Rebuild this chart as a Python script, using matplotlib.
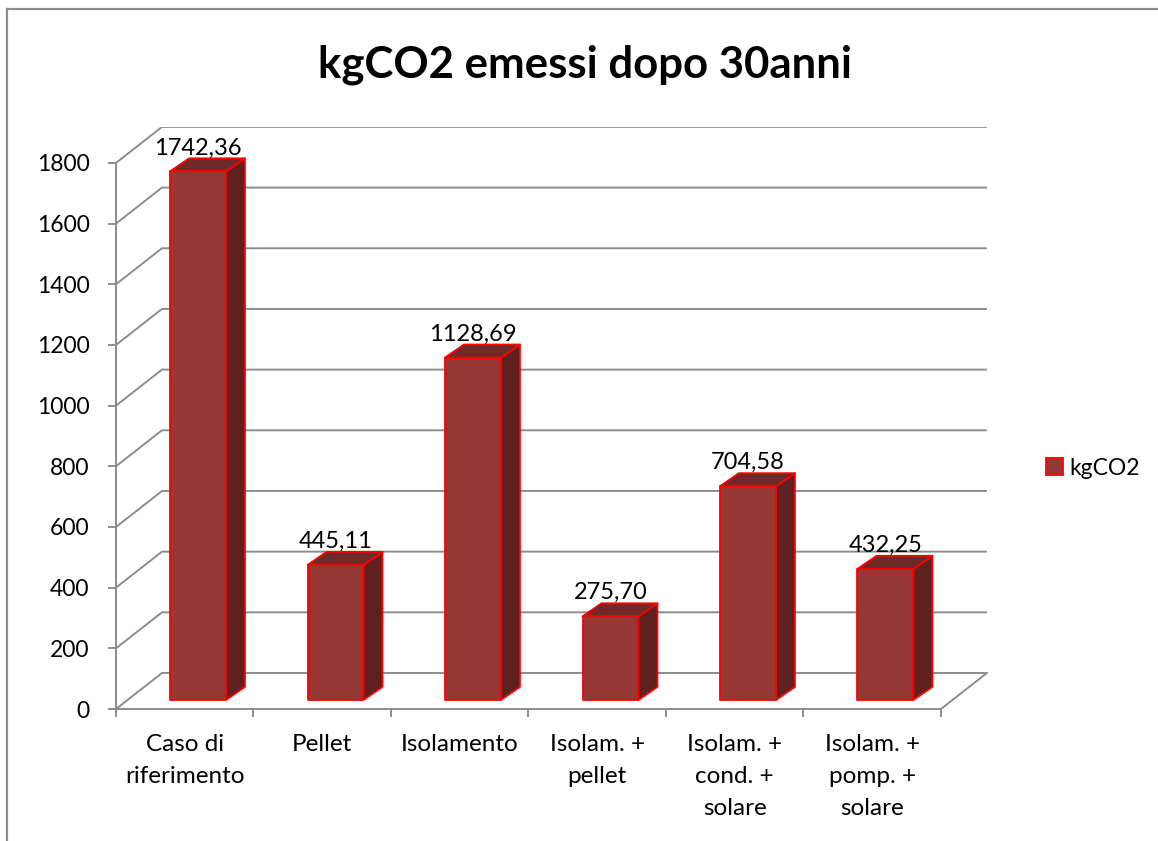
import matplotlib.pyplot as plt
import numpy as np
from matplotlib.patches import Polygon, Patch
from matplotlib.lines import Line2D

plt.rcParams['font.family'] = ['Lato', 'DejaVu Sans']

############################################################
# INPUT

categorie = ['Caso di\nriferimento', 'Pellet', 'Isolamento', 'Isolam. +\npellet',
             'Isolam. +\ncond. +\nsolare', 'Isolam. +\npomp. +\nsolare']
kgco2 = [1742.36, 445.11, 1128.69, 275.70, 704.58, 432.25]
etichette = ['1742,36', '445,11', '1128,69', '275,70', '704,58', '432,25']
yticks = np.arange(0, 1801, 200)

# END INPUT
############################################################

grid_col = '#8c8c8c'
front_col = '#953735'
side_col = '#5f2120'
top_col = '#6e2a28'
edge_col = '#ff0000'

# depth of the 3D box (category units, value units)
DX, DY = 0.3345, 118.7
# bar placement inside the depth
BX0, BY0 = 0.0965, 29.7
BDX, BDY = 0.138, 43.0
W = 0.407

fig = plt.figure(figsize=(11.58, 8.41), dpi=100)
ax = fig.add_axes([116/1158, (841-709)/841, 873/1158, 582.4/841])
ax.set_xlim(-0.5, 5.5 + DX + 0.015)
ax.set_ylim(0, 1800 + DY + 1)
ax.patch.set_alpha(0)
for s in ['top', 'right']:
    ax.spines[s].set_visible(False)
ax.spines['left'].set_bounds(0, 1800)
ax.spines['bottom'].set_bounds(-0.5, 5.5)
for s in ['left', 'bottom']:
    ax.spines[s].set_color(grid_col)
    ax.spines[s].set_linewidth(1.4)

# grid walls
xa, xb = -0.5, 5.5
for v in yticks:
    ax.plot([xa, xa+DX, xb+DX], [v, v+DY, v+DY], color=grid_col, lw=1.4, zorder=1,
            solid_capstyle='butt')
ax.plot([xb, xb+DX], [0, DY], color=grid_col, lw=1.4, zorder=1)

# ticks
ax.set_yticks(yticks)
ax.tick_params(axis='y', direction='out', length=6, width=1.4, color=grid_col,
               labelsize=16.5, pad=13)
ax.set_xticks(np.arange(-0.5, 6, 1.0))
ax.set_xticklabels([])
ax.tick_params(axis='x', which='major', direction='out', length=6, width=1.4, color=grid_col)
ax.set_xticks(np.arange(len(categorie)), minor=True)
ax.set_xticklabels(categorie, minor=True, fontsize=17.5, linespacing=1.66)
ax.tick_params(axis='x', which='minor', length=0, pad=18)

# bars
for i, v in enumerate(kgco2):
    x0 = i - W/2 + BX0
    x1 = x0 + W
    y0 = BY0
    y1 = BY0 + v
    front = [(x0, y0), (x1, y0), (x1, y1), (x0, y1)]
    side = [(x1, y0), (x1+BDX, y0+BDY), (x1+BDX, y1+BDY), (x1, y1)]
    top = [(x0, y1), (x1, y1), (x1+BDX, y1+BDY), (x0+BDX, y1+BDY)]
    for pts, c in [(side, side_col), (top, top_col), (front, front_col)]:
        ax.add_patch(Polygon(pts, closed=True, facecolor=c, edgecolor=edge_col,
                             lw=1.3, joinstyle='round', zorder=3))
    ax.annotate(etichette[i], (i + BX0, y1 + BDY), xytext=(0, 0), textcoords='offset points',
                ha='center', va='bottom', fontsize=17, zorder=4)

# legend
ax.legend(handles=[Patch(facecolor=front_col, edgecolor=edge_col, lw=1.3, label='kgCO2')],
          loc='center left', bbox_to_anchor=(1035/1158, 1-468/841),
          bbox_transform=fig.transFigure, frameon=False, fontsize=16.5,
          handlelength=0.7, handleheight=0.7, handletextpad=0.3, borderpad=0)

fig.text(585/1158, 1-65/841, 'kgCO2 emessi dopo 30anni', ha='center', va='center',
         fontsize=31.5, fontweight='bold')

# chart border (partly visible)
fig.add_artist(Line2D([7/1158, 7/1158], [0, 1-9/841], transform=fig.transFigure,
                      color=grid_col, lw=1.6))
fig.add_artist(Line2D([7/1158, 1], [1-9/841, 1-9/841], transform=fig.transFigure,
                      color=grid_col, lw=1.6))

fig.savefig('out.png', dpi=100)
